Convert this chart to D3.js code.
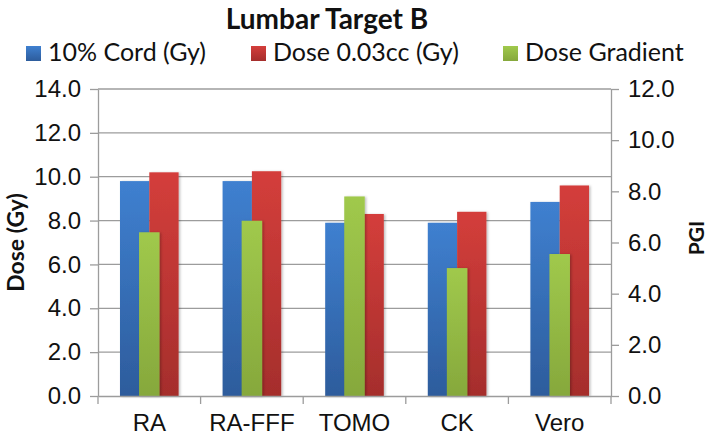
<!DOCTYPE html>
<html>
<head>
<meta charset="utf-8">
<script src="https://cdn.jsdelivr.net/npm/d3@7"></script>
<style>
  html, body { margin: 0; padding: 0; background: #fff; }
  svg { display: block; font-family: Lato, "Open Sans", sans-serif; }
</style>
</head>
<body>
<div id="chart"></div>
<script>
// chart values
const categories = ["RA", "RA-FFF", "TOMO", "CK", "Vero"];
const cord10 = [9.8, 9.8, 7.9, 7.9, 8.85];      // 10% Cord (Gy), left axis
const dose003 = [10.2, 10.25, 8.3, 8.4, 9.6];   // Dose 0.03cc (Gy), left axis
const gradient = [6.4, 6.85, 7.8, 5.0, 5.55];   // Dose Gradient (PGI), right axis
const leftTicks = [0, 2, 4, 6, 8, 10, 12, 14];
const rightTicks = [0, 2, 4, 6, 8, 10, 12];
const legendLabels = ["10% Cord (Gy)", "Dose 0.03cc (Gy)", "Dose Gradient"];

const width = 709;
const height = 436;
const m = { left: 98, right: 98, top: 89, bottom: 40 };
const plotR = width - m.right;
const plotB = height - m.bottom;
const gridColor = "#9c9c9c";

const svg = d3.select("#chart").append("svg")
  .attr("width", width)
  .attr("height", height);

const defs = svg.append("defs");
const grads = [
  { id: "gBlue", top: "#3f80d0", bot: "#2d5c9c" },
  { id: "gRed", top: "#d43e3b", bot: "#a52e2c" },
  { id: "gGreen", top: "#a0c94c", bot: "#86a83c" }
];
grads.forEach((g) => {
  const lg = defs.append("linearGradient")
    .attr("id", g.id)
    .attr("x1", 0).attr("y1", 0).attr("x2", 0).attr("y2", 1);
  lg.append("stop").attr("offset", "0%").attr("stop-color", g.top);
  lg.append("stop").attr("offset", "100%").attr("stop-color", g.bot);
});
defs.append("filter").attr("id", "shadow")
  .attr("x", "-20%").attr("y", "-5%").attr("width", "150%").attr("height", "110%")
  .append("feDropShadow")
  .attr("dx", 1.5).attr("dy", 0.5).attr("stdDeviation", 1.2)
  .attr("flood-color", "#000").attr("flood-opacity", 0.25);

// scales
const x = d3.scaleBand().domain(categories).range([m.left, plotR]);
const yL = d3.scaleLinear().domain([0, 14]).range([plotB, m.top]);
const yR = d3.scaleLinear().domain([0, 12]).range([plotB, m.top]);

// gridlines
svg.append("g")
  .selectAll("line")
  .data(leftTicks.slice(1))
  .join("line")
  .attr("x1", m.left).attr("x2", plotR)
  .attr("y1", (d) => yL(d)).attr("y2", (d) => yL(d))
  .attr("stroke", gridColor).attr("stroke-width", 1.3);

// primary bars: gap width 150%
const primW = x.bandwidth() / 3.5;
const primary = [
  { vals: cord10, fill: "url(#gBlue)", off: -primW },
  { vals: dose003, fill: "url(#gRed)", off: 0 }
];
primary.forEach((s) => {
  svg.append("g")
    .attr("filter", "url(#shadow)")
    .selectAll("rect")
    .data(categories)
    .join("rect")
    .attr("x", (d) => x(d) + x.bandwidth() / 2 + s.off)
    .attr("width", primW)
    .attr("y", (d, i) => yL(s.vals[i]))
    .attr("height", (d, i) => plotB - yL(s.vals[i]))
    .attr("fill", s.fill);
});

// secondary bars: gap width 400%
const secW = x.bandwidth() / 5;
svg.append("g")
  .attr("filter", "url(#shadow)")
  .selectAll("rect")
  .data(categories)
  .join("rect")
  .attr("x", (d) => x(d) + x.bandwidth() / 2 - secW / 2)
  .attr("width", secW)
  .attr("y", (d, i) => yR(gradient[i]))
  .attr("height", (d, i) => plotB - yR(gradient[i]))
  .attr("fill", "url(#gGreen)");

const styleAxis = (g) => {
  g.selectAll(".domain").attr("stroke", gridColor).attr("stroke-width", 1.3);
  g.selectAll(".tick line").attr("stroke", gridColor).attr("stroke-width", 1.3);
  g.selectAll(".tick text")
    .attr("fill", "#111")
    .style("font-size", "24px");
};

// left axis
svg.append("g")
  .attr("transform", `translate(${m.left},0)`)
  .call(d3.axisLeft(yL).tickValues(leftTicks).tickFormat(d3.format(".1f"))
    .tickSizeInner(8).tickSizeOuter(0).tickPadding(9))
  .call(styleAxis);

// right axis
svg.append("g")
  .attr("transform", `translate(${plotR},0)`)
  .call(d3.axisRight(yR).tickValues(rightTicks).tickFormat(d3.format(".1f"))
    .tickSizeInner(8).tickSizeOuter(0).tickPadding(9))
  .call(styleAxis);

// bottom axis, ticks between categories
const xb = svg.append("g")
  .attr("transform", `translate(0,${plotB})`)
  .call(d3.axisBottom(x).tickSize(0))
  .call(styleAxis);
xb.selectAll(".tick text").attr("dy", 0).attr("y", 34.5);
xb.selectAll(".sep")
  .data(d3.range(categories.length + 1))
  .join("line")
  .attr("class", "sep")
  .attr("x1", (i) => m.left + i * x.step())
  .attr("x2", (i) => m.left + i * x.step())
  .attr("y1", 0).attr("y2", 8)
  .attr("stroke", gridColor).attr("stroke-width", 1.3);

// axis titles
svg.append("text")
  .attr("transform", `translate(24,${(m.top + plotB) / 2}) rotate(-90)`)
  .attr("text-anchor", "middle")
  .style("font-size", "23px").style("font-weight", "bold")
  .attr("fill", "#111")
  .text("Dose (Gy)");

svg.append("text")
  .attr("transform", `translate(704,238) rotate(-90)`)
  .attr("text-anchor", "middle")
  .style("font-size", "21px").style("font-weight", "bold")
  .attr("fill", "#111")
  .text("PGI");

// title
svg.append("text")
  .attr("x", 327).attr("y", 29)
  .attr("text-anchor", "middle")
  .style("font-size", "28px").style("font-weight", "bold")
  .attr("fill", "#111")
  .text("Lumbar Target B");

// legend
const legendX = [26, 251, 503];
const legendFill = ["url(#gBlue)", "url(#gRed)", "url(#gGreen)"];
const lg = svg.append("g")
  .selectAll("g")
  .data(legendLabels)
  .join("g")
  .attr("transform", (d, i) => `translate(${legendX[i]},46)`);
lg.append("rect")
  .attr("width", 15).attr("height", 15)
  .attr("fill", (d, i) => legendFill[i]);
lg.append("text")
  .attr("x", 22).attr("y", 14.5)
  .style("font-size", "25px")
  .attr("fill", "#111")
  .text((d) => d);
</script>
</body>
</html>
